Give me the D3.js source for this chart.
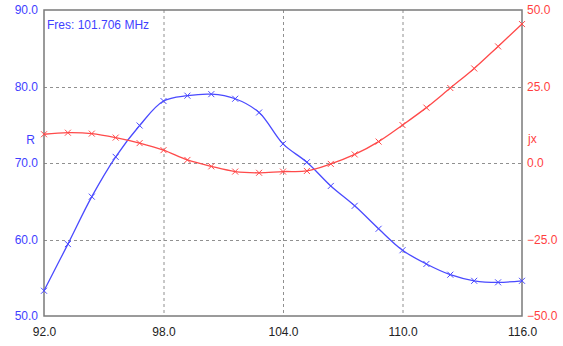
<!DOCTYPE html>
<html><head><meta charset="utf-8">
<script src="https://cdn.jsdelivr.net/npm/d3@7"></script>
<style>body{margin:0;background:#fff}svg{display:block}text{font-family:"Liberation Sans",Arial,sans-serif}</style>
</head><body>
<script>
const freq = d3.range(21).map(i => 92 + i * 1.2);
const rValues = [53.3, 59.4, 65.6, 70.8, 74.9, 78.1, 78.8, 79.0, 78.4, 76.6, 72.5, 70.1, 67.0, 64.4, 61.4, 58.6, 56.8, 55.4, 54.6, 54.4, 54.6];
const jxValues = [9.4, 9.9, 9.6, 8.3, 6.5, 4.2, 1.0, -1.1, -2.8, -3.2, -2.8, -2.6, -0.3, 2.8, 7.0, 12.4, 18.1, 24.5, 30.9, 38.1, 45.4];
const xTicks = [92, 98, 104, 110, 116];
const rTicks = [50, 60, 70, 80, 90];
const jxTicks = [-50, -25, 0, 25, 50];
const title = "Fres: 101.706 MHz";

const W = 563, H = 346;
const m = {l: 44, r: 41, t: 10, b: 30};
const svg = d3.select("body").append("svg").attr("width", W).attr("height", H);
const x = d3.scaleLinear().domain([92, 116]).range([m.l, W - m.r]);
const yR = d3.scaleLinear().domain([50, 90]).range([H - m.b, m.t]);
const yX = d3.scaleLinear().domain([-50, 50]).range([H - m.b, m.t]);

// grid
const g = svg.append("g").attr("stroke", "#909090").attr("stroke-dasharray", "3,3").attr("stroke-width", 1);
xTicks.slice(1, -1).forEach(t => g.append("line").attr("x1", x(t)+0.5).attr("x2", x(t)+0.5).attr("y1", m.t).attr("y2", H - m.b));
rTicks.slice(1, -1).forEach(t => g.append("line").attr("x1", m.l).attr("x2", W - m.r).attr("y1", Math.round(yR(t))+0.5).attr("y2", Math.round(yR(t))+0.5));

// frame
svg.append("rect").attr("x", m.l).attr("y", m.t).attr("width", W - m.l - m.r).attr("height", H - m.t - m.b)
  .attr("fill", "none").attr("stroke", "#7a7a7a").attr("stroke-width", 1.5);

// axes
const fmt = d3.format(".1f");
const axB = svg.append("g").attr("transform", `translate(0,${H - m.b})`)
  .call(d3.axisBottom(x).tickValues(xTicks).tickFormat(fmt).tickSize(0).tickPadding(11));
axB.select(".domain").remove();
axB.selectAll("text").attr("fill", "#222").attr("font-size", 12);

const axL = svg.append("g").attr("transform", `translate(${m.l},0)`)
  .call(d3.axisLeft(yR).tickValues(rTicks).tickFormat(fmt).tickSize(0).tickPadding(6));
axL.select(".domain").remove();
axL.selectAll("text").attr("fill", "#3f3fff").attr("font-size", 12);

const axR = svg.append("g").attr("transform", `translate(${W - m.r},0)`)
  .call(d3.axisRight(yX).tickValues(jxTicks).tickFormat(fmt).tickSize(0).tickPadding(5));
axR.select(".domain").remove();
axR.selectAll("text").attr("fill", "#ff3f3f").attr("font-size", 12);

svg.append("text").attr("x", 35).attr("y", 144).attr("text-anchor", "end").attr("fill", "#3f3fff").attr("font-size", 12).text("R");
svg.append("text").attr("x", 528).attr("y", 143).attr("fill", "#ff3f3f").attr("font-size", 12).text("jx");
svg.append("text").attr("x", 47).attr("y", 29).attr("fill", "#3f3fff").attr("font-size", 12).text(title);

function series(vals, y, color) {
  const pts = vals.map((v, i) => [x(freq[i]), y(v)]);
  svg.append("path").attr("d", d3.line().curve(d3.curveCatmullRom)(pts))
    .attr("fill", "none").attr("stroke", color).attr("stroke-width", 1.3);
  const mk = svg.append("g").attr("stroke", color).attr("stroke-width", 1);
  pts.forEach(([px, py]) => {
    mk.append("line").attr("x1", px - 3).attr("y1", py - 3).attr("x2", px + 3).attr("y2", py + 3);
    mk.append("line").attr("x1", px - 3).attr("y1", py + 3).attr("x2", px + 3).attr("y2", py - 3);
  });
}
series(rValues, yR, "#4a4aff");
series(jxValues, yX, "#ff4a4a");
</script>
</body></html>
